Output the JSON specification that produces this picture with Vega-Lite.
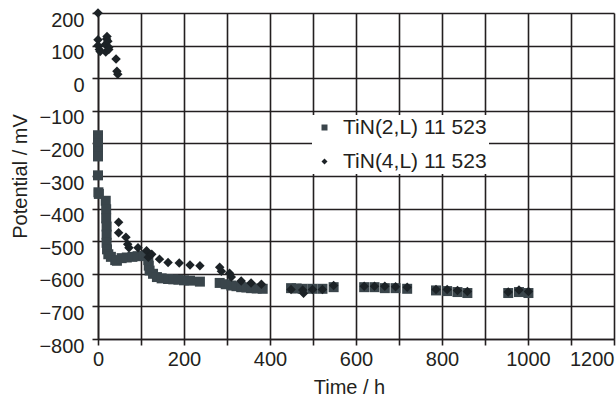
{
  "$schema": "https://vega.github.io/schema/vega-lite/v6.json",
  "width": 516,
  "height": 326,
  "autosize": {"type": "none"},
  "padding": {"left": 98, "top": 13, "right": 2, "bottom": 66},
  "background": "white",
  "config": {
    "font": "Liberation Sans",
    "view": {"stroke": null},
    "axis": {
      "gridColor": "#231f20",
      "gridWidth": 1.6,
      "gridOpacity": 1,
      "domainColor": "#231f20",
      "domainWidth": 1.6,
      "tickColor": "#231f20",
      "tickWidth": 1.6,
      "tickSize": 6,
      "labelFontSize": 20,
      "labelColor": "#231f20",
      "titleFontSize": 20,
      "titleFontWeight": "normal",
      "titleColor": "#231f20"
    }
  },
  "data": {
    "values": [
      {"t": 0, "v": -175, "s": "TiN(2,L) 11 523"},
      {"t": 0, "v": -188, "s": "TiN(2,L) 11 523"},
      {"t": 0, "v": -200, "s": "TiN(2,L) 11 523"},
      {"t": 0, "v": -213, "s": "TiN(2,L) 11 523"},
      {"t": 0, "v": -226, "s": "TiN(2,L) 11 523"},
      {"t": 0, "v": -240, "s": "TiN(2,L) 11 523"},
      {"t": 0, "v": -298, "s": "TiN(2,L) 11 523"},
      {"t": 1, "v": -350, "s": "TiN(2,L) 11 523"},
      {"t": 2, "v": -355, "s": "TiN(2,L) 11 523"},
      {"t": 18, "v": -376, "s": "TiN(2,L) 11 523"},
      {"t": 19, "v": -402, "s": "TiN(2,L) 11 523"},
      {"t": 19, "v": -430, "s": "TiN(2,L) 11 523"},
      {"t": 20, "v": -455, "s": "TiN(2,L) 11 523"},
      {"t": 20, "v": -480, "s": "TiN(2,L) 11 523"},
      {"t": 20, "v": -505, "s": "TiN(2,L) 11 523"},
      {"t": 21, "v": -525, "s": "TiN(2,L) 11 523"},
      {"t": 24, "v": -540, "s": "TiN(2,L) 11 523"},
      {"t": 30, "v": -548, "s": "TiN(2,L) 11 523"},
      {"t": 40, "v": -558, "s": "TiN(2,L) 11 523"},
      {"t": 44, "v": -560, "s": "TiN(2,L) 11 523"},
      {"t": 55, "v": -552, "s": "TiN(2,L) 11 523"},
      {"t": 67, "v": -550, "s": "TiN(2,L) 11 523"},
      {"t": 80, "v": -548, "s": "TiN(2,L) 11 523"},
      {"t": 92, "v": -546, "s": "TiN(2,L) 11 523"},
      {"t": 105, "v": -545, "s": "TiN(2,L) 11 523"},
      {"t": 113, "v": -544, "s": "TiN(2,L) 11 523"},
      {"t": 117, "v": -558, "s": "TiN(2,L) 11 523"},
      {"t": 118, "v": -575, "s": "TiN(2,L) 11 523"},
      {"t": 120, "v": -590, "s": "TiN(2,L) 11 523"},
      {"t": 128, "v": -600, "s": "TiN(2,L) 11 523"},
      {"t": 137, "v": -610, "s": "TiN(2,L) 11 523"},
      {"t": 148, "v": -614, "s": "TiN(2,L) 11 523"},
      {"t": 163, "v": -616, "s": "TiN(2,L) 11 523"},
      {"t": 175, "v": -617, "s": "TiN(2,L) 11 523"},
      {"t": 187, "v": -618, "s": "TiN(2,L) 11 523"},
      {"t": 200, "v": -620, "s": "TiN(2,L) 11 523"},
      {"t": 214, "v": -621, "s": "TiN(2,L) 11 523"},
      {"t": 237, "v": -624, "s": "TiN(2,L) 11 523"},
      {"t": 283, "v": -628, "s": "TiN(2,L) 11 523"},
      {"t": 297, "v": -632, "s": "TiN(2,L) 11 523"},
      {"t": 310, "v": -636, "s": "TiN(2,L) 11 523"},
      {"t": 322, "v": -638, "s": "TiN(2,L) 11 523"},
      {"t": 333, "v": -641, "s": "TiN(2,L) 11 523"},
      {"t": 345, "v": -642, "s": "TiN(2,L) 11 523"},
      {"t": 356, "v": -644, "s": "TiN(2,L) 11 523"},
      {"t": 369, "v": -645, "s": "TiN(2,L) 11 523"},
      {"t": 383, "v": -646, "s": "TiN(2,L) 11 523"},
      {"t": 449, "v": -644, "s": "TiN(2,L) 11 523"},
      {"t": 462, "v": -645, "s": "TiN(2,L) 11 523"},
      {"t": 476, "v": -646, "s": "TiN(2,L) 11 523"},
      {"t": 499, "v": -646, "s": "TiN(2,L) 11 523"},
      {"t": 522, "v": -646, "s": "TiN(2,L) 11 523"},
      {"t": 548, "v": -641, "s": "TiN(2,L) 11 523"},
      {"t": 619, "v": -641, "s": "TiN(2,L) 11 523"},
      {"t": 643, "v": -641, "s": "TiN(2,L) 11 523"},
      {"t": 667, "v": -644, "s": "TiN(2,L) 11 523"},
      {"t": 692, "v": -644, "s": "TiN(2,L) 11 523"},
      {"t": 719, "v": -646, "s": "TiN(2,L) 11 523"},
      {"t": 786, "v": -651, "s": "TiN(2,L) 11 523"},
      {"t": 812, "v": -653, "s": "TiN(2,L) 11 523"},
      {"t": 836, "v": -656, "s": "TiN(2,L) 11 523"},
      {"t": 859, "v": -659, "s": "TiN(2,L) 11 523"},
      {"t": 954, "v": -659, "s": "TiN(2,L) 11 523"},
      {"t": 979, "v": -656, "s": "TiN(2,L) 11 523"},
      {"t": 1001, "v": -659, "s": "TiN(2,L) 11 523"},
      {"t": 0, "v": 200, "s": "TiN(4,L) 11 523"},
      {"t": 0, "v": 118, "s": "TiN(4,L) 11 523"},
      {"t": 0, "v": 100, "s": "TiN(4,L) 11 523"},
      {"t": 3, "v": 88, "s": "TiN(4,L) 11 523"},
      {"t": 5, "v": 82, "s": "TiN(4,L) 11 523"},
      {"t": 17, "v": 103, "s": "TiN(4,L) 11 523"},
      {"t": 18, "v": 80, "s": "TiN(4,L) 11 523"},
      {"t": 20, "v": 120, "s": "TiN(4,L) 11 523"},
      {"t": 21, "v": 128, "s": "TiN(4,L) 11 523"},
      {"t": 23, "v": 113, "s": "TiN(4,L) 11 523"},
      {"t": 25, "v": 95, "s": "TiN(4,L) 11 523"},
      {"t": 25, "v": 88, "s": "TiN(4,L) 11 523"},
      {"t": 42, "v": 59, "s": "TiN(4,L) 11 523"},
      {"t": 44, "v": 21, "s": "TiN(4,L) 11 523"},
      {"t": 46, "v": 12, "s": "TiN(4,L) 11 523"},
      {"t": 48, "v": -442, "s": "TiN(4,L) 11 523"},
      {"t": 48, "v": -474, "s": "TiN(4,L) 11 523"},
      {"t": 65, "v": -488, "s": "TiN(4,L) 11 523"},
      {"t": 69, "v": -509, "s": "TiN(4,L) 11 523"},
      {"t": 72, "v": -520, "s": "TiN(4,L) 11 523"},
      {"t": 93, "v": -520, "s": "TiN(4,L) 11 523"},
      {"t": 113, "v": -529, "s": "TiN(4,L) 11 523"},
      {"t": 117, "v": -549, "s": "TiN(4,L) 11 523"},
      {"t": 125, "v": -540, "s": "TiN(4,L) 11 523"},
      {"t": 143, "v": -555, "s": "TiN(4,L) 11 523"},
      {"t": 163, "v": -565, "s": "TiN(4,L) 11 523"},
      {"t": 189, "v": -567, "s": "TiN(4,L) 11 523"},
      {"t": 214, "v": -573, "s": "TiN(4,L) 11 523"},
      {"t": 237, "v": -575, "s": "TiN(4,L) 11 523"},
      {"t": 283, "v": -580, "s": "TiN(4,L) 11 523"},
      {"t": 287, "v": -592, "s": "TiN(4,L) 11 523"},
      {"t": 306, "v": -598, "s": "TiN(4,L) 11 523"},
      {"t": 310, "v": -610, "s": "TiN(4,L) 11 523"},
      {"t": 333, "v": -622, "s": "TiN(4,L) 11 523"},
      {"t": 356, "v": -628, "s": "TiN(4,L) 11 523"},
      {"t": 380, "v": -632, "s": "TiN(4,L) 11 523"},
      {"t": 449, "v": -648, "s": "TiN(4,L) 11 523"},
      {"t": 476, "v": -650, "s": "TiN(4,L) 11 523"},
      {"t": 478, "v": -660, "s": "TiN(4,L) 11 523"},
      {"t": 499, "v": -648, "s": "TiN(4,L) 11 523"},
      {"t": 522, "v": -648, "s": "TiN(4,L) 11 523"},
      {"t": 548, "v": -636, "s": "TiN(4,L) 11 523"},
      {"t": 619, "v": -638, "s": "TiN(4,L) 11 523"},
      {"t": 643, "v": -638, "s": "TiN(4,L) 11 523"},
      {"t": 667, "v": -638, "s": "TiN(4,L) 11 523"},
      {"t": 692, "v": -640, "s": "TiN(4,L) 11 523"},
      {"t": 719, "v": -641, "s": "TiN(4,L) 11 523"},
      {"t": 786, "v": -648, "s": "TiN(4,L) 11 523"},
      {"t": 812, "v": -648, "s": "TiN(4,L) 11 523"},
      {"t": 836, "v": -651, "s": "TiN(4,L) 11 523"},
      {"t": 859, "v": -654, "s": "TiN(4,L) 11 523"},
      {"t": 954, "v": -656, "s": "TiN(4,L) 11 523"},
      {"t": 979, "v": -650, "s": "TiN(4,L) 11 523"},
      {"t": 1001, "v": -654, "s": "TiN(4,L) 11 523"}
    ]
  },
  "mark": {"type": "point", "filled": true, "opacity": 1},
  "encoding": {
    "x": {
      "field": "t",
      "type": "quantitative",
      "scale": {"domain": [0, 1200], "nice": false, "zero": false},
      "axis": {
        "title": "Time / h",
        "values": [0, 100, 200, 300, 400, 500, 600, 700, 800, 900, 1000, 1100, 1200],
        "format": "d",
        "labelExpr": "datum.value % 200 == 0 ? datum.label : ''",
        "labelAlign": {"condition": {"test": "datum.value == 1200", "value": "right"}, "value": "center"},
        "labelPadding": 4,
        "labelFlush": false,
        "labelOverlap": false,
        "titlePadding": 8,
        "titleX": 251
      }
    },
    "y": {
      "field": "v",
      "type": "quantitative",
      "scale": {"domain": [-800, 200], "nice": false, "zero": false},
      "axis": {
        "title": "Potential / mV",
        "values": [-800, -700, -600, -500, -400, -300, -200, -100, 0, 100, 200],
        "format": "d",
        "labelPadding": 8,
        "labelOffset": 7,
        "labelFlush": false,
        "labelOverlap": false,
        "titlePadding": 8
      }
    },
    "shape": {
      "field": "s",
      "type": "nominal",
      "scale": {"domain": ["TiN(2,L) 11 523", "TiN(4,L) 11 523"], "range": ["square", "diamond"]},
      "legend": null
    },
    "color": {
      "field": "s",
      "type": "nominal",
      "scale": {"domain": ["TiN(2,L) 11 523", "TiN(4,L) 11 523"], "range": ["#3a454b", "#1c2226"]},
      "legend": {
        "title": null,
        "orient": "none",
        "legendX": 214,
        "legendY": 102,
        "labelFontSize": 21,
        "labelColor": "#231f20",
        "symbolSize": 36,
        "labelOffset": 8,
        "rowPadding": 12,
        "padding": 2,
        "fillColor": "white"
      }
    },
    "size": {
      "condition": {"test": "datum.s == 'TiN(2,L) 11 523'", "value": 100},
      "value": 90
    }
  }
}
